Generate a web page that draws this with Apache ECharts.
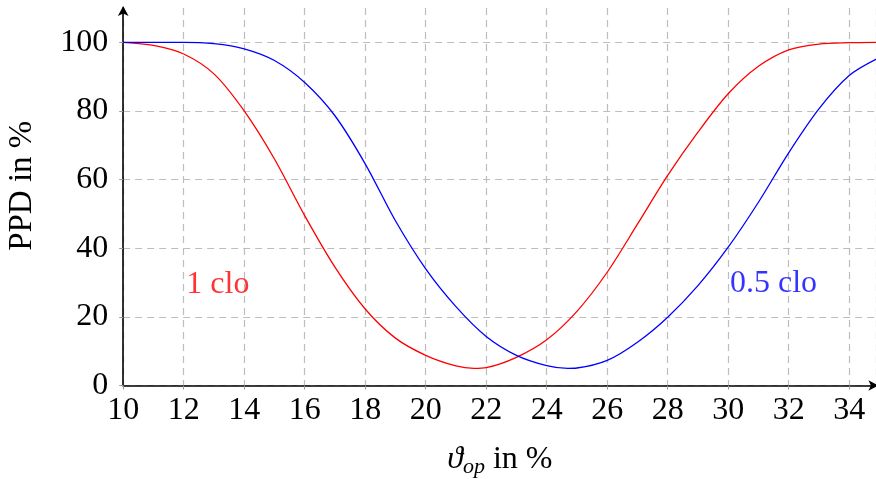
<!DOCTYPE html>
<html>
<head>
<meta charset="utf-8">
<script src="https://cdn.jsdelivr.net/npm/echarts@6/dist/echarts.min.js"></script>
<style>html,body{margin:0;padding:0;background:#fff;}#c{width:876px;height:479px;}</style>
</head>
<body>
<div id="c"></div>
<script>
// operative temperature values (x) and PPD values
const xRed  = [10, 11, 12, 13, 14, 15, 16, 17, 18, 19, 20, 21, 21.6, 22, 23, 24, 25, 26, 27, 28, 29, 30, 31, 32, 33, 34, 34.9];
const ppdRed = [100, 99.1, 96.6, 90.8, 80, 66, 49.5, 34.5, 22.3, 13.8, 8.8, 5.7, 5.0, 5.2, 8.2, 13.3, 21.6, 33, 47, 61.2, 73.8, 85, 93, 97.8, 99.5, 99.9, 100];
const xBlue = [10, 11, 12, 13, 14, 15, 16, 17, 18, 19, 20, 21, 22, 23, 24, 24.7, 25, 26, 27, 28, 29, 30, 31, 32, 33, 34, 34.9];
const ppdBlue = [100, 100, 100, 99.6, 98.1, 94.7, 88.3, 78.6, 64.6, 48, 34, 23, 14.3, 8.8, 5.8, 5.0, 5.1, 7.3, 12.6, 19.9, 29.1, 40.3, 53.4, 67.8, 80.6, 90.3, 95.1];
const xTicks = [10, 12, 14, 16, 18, 20, 22, 24, 26, 28, 30, 32, 34];
const yTicks = [0, 20, 40, 60, 80, 100];
const seriesNames = ['1 clo', '0.5 clo'];
const labelPos = [[13.13, 29.3], [31.5, 29.8]];

const FONT = '"Liberation Serif", "DejaVu Serif", serif';
const FS = 32;
const gridCol = '#bdbdbd';
const chart = echarts.init(document.getElementById('c'), null, {renderer: 'canvas'});
const zip = (a, b) => a.map((v, i) => [v, b[i]]);

chart.setOption({
  animation: false,
  backgroundColor: '#fff',
  grid: {left: 123.2, top: 8, width: 753.2, height: 377.5, containLabel: false, outerBoundsMode: 'none'},
  xAxis: {
    type: 'value', min: 10, max: 34.9, interval: 2,
    axisLine: {show: true, lineStyle: {color: '#000', width: 1.6}, symbol: ['none', 'arrow'], symbolSize: [8, 10], symbolOffset: [0, 2]},
    axisTick: {show: true, length: 4, lineStyle: {color: '#999'}},
    axisLabel: {show: true, showMaxLabel: false, color: '#000', fontFamily: FONT, fontSize: FS, margin: 9,
      formatter: v => xTicks.includes(v) ? String(v) : ''},
    splitLine: {show: true, lineStyle: {color: gridCol, type: [7, 5], width: 1.2}},
    name: '{i|ϑ}{s|op} in %', nameLocation: 'middle', nameGap: 56,
    nameTextStyle: {color: '#000', fontFamily: FONT, fontSize: FS,
      rich: {i: {fontFamily: FONT, fontStyle: 'italic', fontSize: FS, color: '#000'},
             s: {fontFamily: FONT, fontStyle: 'italic', fontSize: 22, color: '#000', padding: [15, 0, 0, 0]}}}
  },
  yAxis: {
    type: 'value', min: 0, max: 110, interval: 20,
    axisLine: {show: true, lineStyle: {color: '#000', width: 1.6}, symbol: ['none', 'arrow'], symbolSize: [8, 10], symbolOffset: [0, 2]},
    axisTick: {show: true, length: 4, lineStyle: {color: '#999'}},
    axisLabel: {show: true, showMaxLabel: false, color: '#000', fontFamily: FONT, fontSize: FS, margin: 15,
      formatter: v => yTicks.includes(v) ? String(v) : ''},
    splitLine: {show: true, lineStyle: {color: [gridCol, gridCol, gridCol, gridCol, gridCol, gridCol, 'rgba(0,0,0,0)'], type: [7, 5], width: 1.2}},
    name: 'PPD in %', nameLocation: 'middle', nameGap: 84, nameRotate: 90,
    nameTextStyle: {color: '#000', fontFamily: FONT, fontSize: 33, padding: [0, 0, 0, 22]}
  },
  series: [
    {type: 'line', name: seriesNames[0], data: zip(xRed, ppdRed), smooth: 0.3, showSymbol: false,
     lineStyle: {color: '#ff0000', width: 1.3}, z: 3},
    {type: 'line', name: seriesNames[1], data: zip(xBlue, ppdBlue), smooth: 0.3, showSymbol: false,
     lineStyle: {color: '#0000ff', width: 1.3}, z: 3},
    {type: 'scatter', data: [labelPos[0]], symbolSize: 0, silent: true,
     label: {show: true, position: 'inside', formatter: seriesNames[0], color: '#ff0000', fontFamily: FONT, fontSize: FS}},
    {type: 'scatter', data: [labelPos[1]], symbolSize: 0, silent: true,
     label: {show: true, position: 'inside', formatter: seriesNames[1], color: '#0000ff', fontFamily: FONT, fontSize: FS}}
  ]
});
</script>
</body>
</html>
